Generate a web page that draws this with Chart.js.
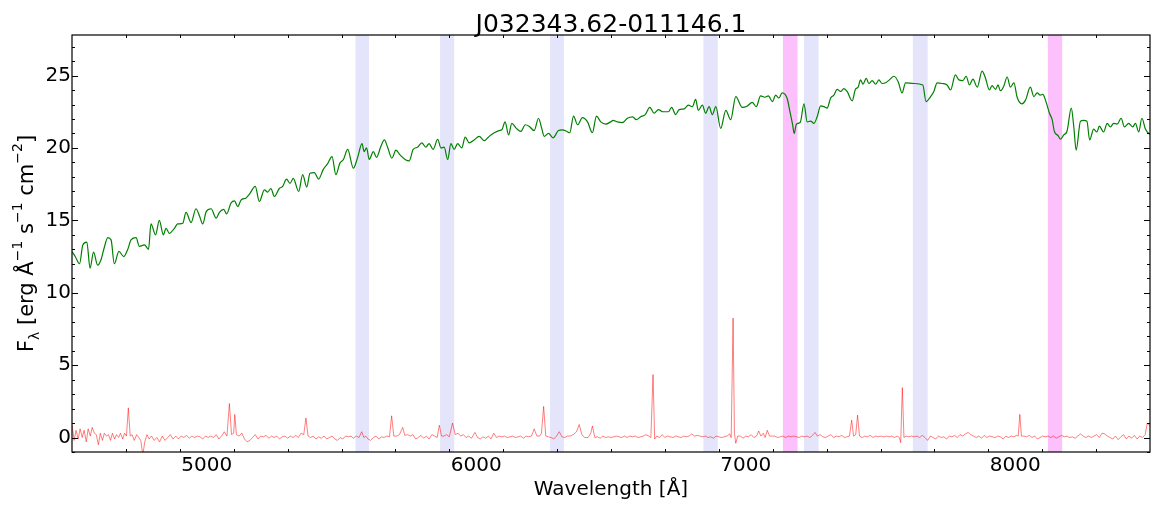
<!DOCTYPE html>
<html>
  <head>
    <meta charset="utf-8" />
    <script src="https://cdn.jsdelivr.net/npm/chart.js@4.4.0/dist/chart.umd.min.js"></script>
    <style>
      body { margin: 0; background: #fff; }
    </style>
  </head>
  <body>
    <canvas id="chart-spectrum" width="1153" height="507"></canvas>
    <script>
      // INPUT DATA

      const objName = "J032343.62-011146.1";

      // model spectrum (green), wavelength in Angstrom
      const greenWave = [
        4500, 4512, 4528, 4540, 4555, 4567, 4580, 4595, 4608, 4618,
        4633, 4645, 4657, 4674, 4692, 4707, 4719, 4738, 4750, 4769,
        4784, 4793, 4810, 4824, 4839, 4849, 4861, 4880, 4892, 4911,
        4923, 4942, 4960, 4973, 4985, 4998, 5016, 5035, 5047, 5063,
        5074, 5090, 5103, 5115, 5127, 5146, 5158, 5180, 5195, 5214,
        5226, 5238, 5251, 5269, 5282, 5296, 5309, 5321, 5341, 5356,
        5371, 5383, 5399, 5415, 5432, 5448, 5465, 5479, 5494, 5507,
        5523, 5544, 5560, 5576, 5584, 5593, 5603, 5618, 5630, 5646,
        5659, 5671, 5687, 5702, 5718, 5736, 5751, 5766, 5782, 5798,
        5813, 5825, 5840, 5857, 5869, 5881, 5894, 5906, 5918, 5931,
        5946, 5959, 5974, 5992, 6011, 6030, 6048, 6067, 6085, 6095,
        6107, 6120, 6132, 6149, 6166, 6182, 6196, 6215, 6231, 6243,
        6252, 6268, 6285, 6305, 6320, 6335, 6347, 6361, 6376, 6394,
        6413, 6431, 6446, 6462, 6481, 6499, 6508, 6524, 6542, 6561,
        6580, 6594, 6610, 6627, 6644, 6660, 6676, 6693, 6713, 6725,
        6740, 6753, 6771, 6787, 6802, 6814, 6824, 6839, 6851, 6864,
        6876, 6889, 6907, 6926, 6944, 6963, 6987, 7006, 7024, 7039,
        7055, 7071, 7084, 7099, 7111, 7123, 7135, 7154, 7163, 7173,
        7180, 7187, 7195, 7203, 7216, 7228, 7241, 7253, 7265, 7278,
        7290, 7302, 7315, 7327, 7339, 7352, 7364, 7376, 7395, 7407,
        7417, 7426, 7435, 7447, 7457, 7469, 7482, 7494, 7506, 7519,
        7533, 7550, 7566, 7580, 7593, 7624, 7657, 7669, 7686, 7698,
        7710, 7729, 7747, 7760, 7778, 7791, 7805, 7818, 7830, 7843,
        7859, 7877, 7889, 7904, 7914, 7927, 7936, 7945, 7957, 7970,
        7982, 7995, 8007, 8025, 8038, 8056, 8069, 8081, 8093, 8102,
        8114, 8127, 8137, 8145, 8159, 8168, 8180, 8192, 8208, 8217,
        8226, 8242, 8254, 8266, 8276, 8291, 8303, 8312, 8328, 8341,
        8353, 8365, 8378, 8393, 8405, 8421, 8436, 8446, 8458, 8470,
        8483, 8495, 8500,
      ];
      const greenFlux = [
        12.85, 12.5, 12.0, 13.3, 13.5, 11.7, 12.8, 11.9, 12.3, 13.0,
        13.8, 13.65, 12.0, 12.85, 12.5, 13.0, 13.65, 13.8, 13.2, 13.3,
        13.0, 14.75, 14.0, 15.0, 14.0, 14.45, 14.1, 14.45, 14.75, 14.8,
        15.55, 14.85, 15.8, 15.3, 14.75, 15.6, 15.8, 15.15, 15.55, 15.75,
        15.45, 16.2, 16.35, 15.95, 16.4, 16.55, 16.8, 17.35, 16.3, 17.1,
        16.95, 17.2, 16.65, 17.2, 17.35, 17.85, 17.55, 17.9, 17.0, 18.15,
        17.3, 18.25, 18.3, 17.85, 18.5, 18.9, 19.4, 18.15, 18.95, 19.2,
        19.9, 18.6, 19.35, 20.3, 19.75, 20.0, 19.2, 19.75, 19.35, 20.1,
        20.55, 20.05, 19.3, 19.85, 19.5, 19.2, 19.1, 19.9, 20.05, 20.35,
        20.05, 20.3, 19.9, 20.6, 20.0, 20.05, 19.2, 20.3, 19.9, 20.3,
        20.0, 20.75, 20.35, 20.55, 20.8, 20.5, 20.8, 21.05, 21.2, 21.25,
        21.8, 20.9, 21.7, 21.35, 21.15, 21.6, 21.5, 21.2, 22.05, 21.35,
        20.8, 21.0, 20.7, 21.2, 21.25, 21.15, 21.05, 22.2, 21.6, 22.1,
        21.8, 21.05, 22.2, 21.8, 21.65, 21.8, 21.9, 21.8, 21.75, 22.05,
        22.15, 21.95, 22.15, 22.3, 22.8, 22.4, 22.65, 22.5, 22.5, 22.8,
        22.3, 22.65, 22.7, 22.95, 22.85, 23.35, 22.6, 22.95, 22.4, 22.85,
        22.3, 22.85, 21.35, 22.6, 21.95, 23.55, 22.8, 22.9, 23.15, 22.85,
        23.6, 23.5, 23.6, 23.2, 23.65, 23.45, 23.8, 23.4, 22.6, 21.7,
        21.0, 21.6, 21.7, 21.8, 23.05, 21.8, 21.85, 21.7, 22.15, 22.9,
        22.85, 22.75, 23.45, 23.65, 24.05, 23.9, 24.1, 23.9, 23.25, 24.05,
        24.2, 24.7, 24.4, 24.8, 24.45, 24.65, 24.4, 24.7, 24.45, 24.5,
        24.7, 24.95, 24.55, 23.8, 24.5, 24.45, 24.35, 23.2, 23.55, 23.9,
        24.5, 24.45, 24.35, 24.0, 25.05, 24.7, 24.65, 24.95, 24.35, 24.75,
        24.2, 25.3, 24.85, 24.0, 24.3, 24.05, 24.35, 23.95, 24.25, 24.9,
        24.2, 24.5, 23.5, 23.05, 23.3, 24.2, 23.55, 23.8, 23.65, 23.7,
        23.2, 22.4, 21.95, 21.15, 20.85, 20.6, 20.9, 21.15, 22.75, 21.5,
        19.85, 21.85, 21.9, 21.85, 20.55, 21.3, 21.1, 21.5, 21.1, 21.7,
        21.45, 21.7, 21.65, 22.05, 21.45, 21.7, 21.45, 21.7, 21.1, 22.05,
        21.3, 21.0, 20.95,
      ];

      // residual / emission spectrum (red)
      const redWave = [
        4500, 4508, 4515, 4523, 4530, 4538, 4545, 4553, 4560, 4568,
        4575, 4583, 4590, 4598, 4605, 4613, 4620, 4628, 4635, 4643,
        4650, 4658, 4665, 4673, 4680, 4688, 4695, 4702, 4709, 4716,
        4723, 4731, 4740, 4748, 4755, 4763, 4770, 4778, 4786, 4795,
        4805, 4815, 4825, 4835, 4845, 4855, 4865, 4875, 4885, 4895,
        4905, 4915, 4925, 4935, 4945, 4955, 4965, 4975, 4985, 4995,
        5005, 5015, 5025, 5035, 5045, 5055, 5065, 5075, 5084, 5092,
        5100, 5104, 5110, 5120, 5130, 5140, 5150, 5160, 5170, 5180,
        5190, 5200, 5210, 5220, 5230, 5240, 5250, 5260, 5270, 5280,
        5290, 5300, 5310, 5320, 5330, 5340, 5350, 5360, 5368, 5376,
        5385, 5395, 5405, 5415, 5425, 5435, 5445, 5455, 5465, 5475,
        5485, 5495, 5505, 5515, 5525, 5535, 5545, 5555, 5565, 5575,
        5583, 5590, 5598, 5608, 5618, 5628, 5638, 5648, 5658, 5668,
        5678, 5686, 5694, 5705, 5715, 5727, 5735, 5745, 5755, 5765,
        5775, 5785, 5795, 5805, 5815, 5825, 5835, 5845, 5855, 5863,
        5871, 5880, 5890, 5900, 5912, 5922, 5932, 5942, 5952, 5962,
        5972, 5982, 5995, 6005, 6015, 6025, 6035, 6045, 6055, 6065,
        6075, 6085, 6095, 6105, 6115, 6125, 6135, 6145, 6155, 6165,
        6175, 6185, 6195, 6205, 6215, 6225, 6235, 6242, 6250, 6258,
        6268, 6278, 6288, 6298, 6308, 6318, 6328, 6338, 6348, 6360,
        6372, 6382, 6392, 6402, 6415, 6425, 6431, 6440, 6450, 6460,
        6470, 6480, 6490, 6500, 6510, 6520, 6530, 6540, 6550, 6560,
        6570, 6580, 6590, 6600, 6610, 6620, 6630, 6640, 6648, 6656,
        6662, 6670, 6680, 6690, 6700, 6710, 6720, 6730, 6740, 6750,
        6760, 6770, 6780, 6790, 6800, 6810, 6820, 6830, 6840, 6850,
        6860, 6870, 6880, 6890, 6900, 6910, 6920, 6930, 6940, 6946,
        6953, 6958, 6963, 6970, 6980, 6990, 7000, 7010, 7020, 7030,
        7040, 7048, 7056, 7065, 7072, 7080, 7088, 7098, 7108, 7118,
        7128, 7138, 7148, 7158, 7168, 7178, 7188, 7198, 7208, 7218,
        7228, 7238, 7248, 7257, 7266, 7276, 7286, 7296, 7306, 7316,
        7326, 7336, 7346, 7356, 7366, 7376, 7385, 7393, 7400, 7408,
        7415, 7422, 7432, 7442, 7452, 7462, 7472, 7482, 7492, 7502,
        7512, 7522, 7532, 7542, 7552, 7562, 7570, 7575, 7581, 7587,
        7595, 7605, 7615, 7625, 7635, 7645, 7655, 7665, 7675, 7685,
        7695, 7705, 7715, 7725, 7735, 7745, 7755, 7765, 7775, 7785,
        7795, 7805, 7815, 7825, 7835, 7845, 7855, 7865, 7875, 7885,
        7895, 7905, 7915, 7925, 7935, 7945, 7955, 7965, 7975, 7985,
        7995, 8005, 8011, 8017, 8023, 8032, 8042, 8052, 8062, 8072,
        8082, 8092, 8102, 8112, 8122, 8132, 8142, 8152, 8162, 8172,
        8182, 8192, 8202, 8212, 8222, 8232, 8242, 8252, 8262, 8272,
        8282, 8292, 8302, 8312, 8322, 8332, 8342, 8352, 8362, 8372,
        8382, 8392, 8402, 8412, 8422, 8432, 8442, 8452, 8462, 8472,
        8482, 8490, 8500,
      ];
      const redFlux = [
        0.9, -0.2, 0.5, -0.1, 0.6, 0.0, 0.5, -0.3, 0.6, 0.1,
        0.7, 0.3, 0.2, -0.5, 0.3, -0.2, 0.3, 0.1, 0.2, -0.2,
        0.3, -0.1, 0.2, 0.0, 0.3, -0.1, 0.3, 0.1, 2.05, 0.1,
        0.2, -0.2, 0.2, 0.0, -0.2, -1.2, -0.3, 0.2, -0.1, 0.1,
        -0.2, 0.0, -0.3, 0.1, -0.2, 0.0, 0.2, -0.1, 0.1, -0.1,
        0.1, 0.0, 0.15, -0.05, 0.1, 0.0, 0.1, 0.05, -0.1, 0.1,
        0.0, 0.1, 0.0, 0.2, -0.1, 0.1, 0.4, 0.1, 2.35, 0.2,
        0.3, 1.6, 0.2, 0.1, 0.3, -0.1, -0.3, -0.2, 0.0, 0.2,
        -0.1, 0.1, 0.05, 0.15, -0.05, 0.1, 0.0, 0.1, -0.1, 0.05,
        0.1, -0.05, 0.1, 0.0, 0.15, 0.0, 0.3, 0.2, 1.35, 0.1,
        0.0, 0.1, -0.1, 0.05, -0.05, 0.1, -0.1, 0.0, 0.1, -0.1,
        -0.2, 0.0, -0.1, 0.1, 0.05, 0.1, -0.05, 0.1, 0.0, 0.4,
        0.0, 0.1, -0.1, -0.2, 0.0, 0.1, -0.1, 0.05, 0.0, 0.1,
        0.05, 1.5, 0.1, 0.1, 0.2, 0.7, 0.15, 0.2, 0.1, 0.2,
        -0.1, 0.0, 0.15, -0.05, 0.1, -0.1, 0.2, 0.1, 0.0, 0.85,
        0.1, 0.1, 0.2, 0.05, 1.0, 0.2, 0.3, 0.1, 0.2, 0.0,
        0.1, -0.05, 0.35, 0.0, -0.1, 0.05, -0.05, 0.1, -0.1, 0.3,
        0.0, 0.1, 0.05, 0.1, 0.0, 0.05, 0.1, 0.0, 0.05, 0.1,
        -0.05, 0.1, 0.05, 0.1, 0.6, 0.1, 0.1, 0.3, 2.15, 0.1,
        0.05, 0.0, -0.1, 0.1, 0.4, 0.05, 0.0, 0.1, 0.1, 0.2,
        0.4, 0.9, 0.2, 0.0, 0.0, 0.3, 0.8, 0.0, 0.05, -0.05,
        0.1, 0.0, 0.05, 0.0, 0.05, 0.1, 0.05, 0.0, 0.1, 0.0,
        0.1, 0.05, 0.1, 0.0, 0.05, 0.1, 0.2, 0.1, 0.0, 4.35,
        -0.1, 0.1, 0.0, 0.2, 0.0, 0.1, 0.05, 0.0, 0.1, 0.05,
        0.0, 0.1, 0.05, 0.1, 0.25, 0.1, 0.15, 0.1, 0.05, 0.1,
        0.0, 0.05, -0.05, 0.1, 0.05, 0.0, 0.05, 0.1, 0.25, 0.0,
        8.25, 0.3, -0.4, 0.1, 0.1, -0.05, 0.1, 0.05, 0.2, 0.0,
        0.1, 0.45, 0.1, 0.3, 0.0, 0.5, 0.1, 0.1, 0.1, 0.0,
        0.05, 0.1, 0.0, 0.1, 0.05, 0.1, 0.05, 0.0, 0.1, 0.05,
        0.1, 0.0, 0.15, 0.35, 0.1, 0.2, 0.05, 0.0, 0.1, 0.2,
        0.0, 0.1, 0.05, 0.15, 0.0, 0.05, 0.1, 1.2, 0.1, 0.2,
        1.55, 0.1, 0.0, 0.1, 0.05, 0.15, 0.0, 0.1, 0.05, 0.1,
        0.05, 0.1, 0.05, 0.1, 0.0, 0.1, 0.0, -0.35, 3.45, 0.0,
        0.1, 0.05, 0.1, 0.05, 0.1, 0.0, 0.15, 0.0, -0.2, 0.1,
        0.0, -0.1, 0.1, 0.0, 0.05, -0.1, 0.1, 0.05, 0.15, 0.0,
        0.2, 0.1, 0.25, 0.35, 0.2, 0.1, 0.0, 0.1, -0.05, 0.15,
        0.0, 0.1, 0.05, 0.0, 0.1, 0.05, -0.1, 0.1, 0.0, 0.1,
        0.05, 0.15, 0.1, 1.6, 0.1, 0.1, 0.05, 0.15, 0.0, 0.1,
        -0.1, 0.0, 0.1, 0.05, 0.1, 0.0, 0.1, -0.05, 0.05, 0.15,
        0.05, 0.1, 0.0, 0.05, -0.05, 0.1, 0.25, 0.1, 0.0, 0.1,
        0.0, 0.1, 0.2, 0.0, 0.3, 0.25, 0.1, 0.0, -0.1, 0.1,
        -0.15, 0.05, 0.2, -0.1, 0.1, -0.05, 0.15, -0.1, 0.1, 0.0,
        0.2, 1.0, 0.8,
      ];

      // masked regions [start, end] in Angstrom
      const skyBands = [
        [5552, 5602], [5866, 5918], [6274, 6325],
        [6843, 6896], [7216, 7270], [7620, 7675],
      ];
      const telluricBands = [[7138, 7192], [8121, 8174]];

      const xTicks = [5000, 6000, 7000, 8000];
      const yTicks = [0, 5, 10, 15, 20, 25];
      const xMinorStep = 200;
      const yMinorStep = 1;

      // PLOTTING

      Chart.defaults.font.family = "'DejaVu Sans', sans-serif";
      Chart.defaults.color = "#000";

      const tickFont = { size: 20 };

      const bandsPlugin = {
        id: "bands",
        beforeDatasetsDraw(chart) {
          const { ctx, chartArea: a, scales } = chart;
          const x = scales.x;
          ctx.save();
          ctx.beginPath();
          ctx.rect(a.left, a.top, a.right - a.left, a.bottom - a.top);
          ctx.clip();
          const fill = (bands, color) => {
            ctx.fillStyle = color;
            bands.forEach(function (b) {
              const x1 = x.getPixelForValue(b[0]);
              const x2 = x.getPixelForValue(b[1]);
              ctx.fillRect(x1, a.top, x2 - x1, a.bottom - a.top);
            });
          };
          fill(skyBands, "rgb(228,228,250)");
          fill(telluricBands, "rgb(252,192,252)");
          ctx.restore();
        },
      };

      // frame, inward ticks on all sides, title and the y label with sub/superscripts
      const framePlugin = {
        id: "frame",
        afterDraw(chart) {
          const { ctx, chartArea: a, scales } = chart;
          const x = scales.x, y = scales.y;
          ctx.save();
          ctx.strokeStyle = "#000";
          ctx.lineWidth = 1;
          ctx.beginPath();
          for (let v = x.min + xMinorStep; v < x.max; v += xMinorStep) {
            const px = Math.round(x.getPixelForValue(v)) + 0.5;
            const len = xTicks.includes(v) ? 6 : 3;
            ctx.moveTo(px, a.bottom); ctx.lineTo(px, a.bottom - len);
            ctx.moveTo(px, a.top); ctx.lineTo(px, a.top + len);
          }
          for (let v = Math.ceil(y.min); v < y.max; v += yMinorStep) {
            const py = Math.round(y.getPixelForValue(v)) + 0.5;
            const len = yTicks.includes(v) ? 6 : 3;
            ctx.moveTo(a.left, py); ctx.lineTo(a.left + len, py);
            ctx.moveTo(a.right, py); ctx.lineTo(a.right - len, py);
          }
          ctx.stroke();
          ctx.lineWidth = 1.2;
          ctx.strokeRect(a.left, a.top, a.right - a.left, a.bottom - a.top);

          // title
          ctx.fillStyle = "#000";
          ctx.font = "25px 'DejaVu Sans'";
          ctx.textAlign = "center";
          ctx.textBaseline = "alphabetic";
          ctx.fillText(objName, (a.left + a.right) / 2, 32);

          // y label
          const parts = [
            ["F", 0], ["\u03bb", -1], [" [erg \u00c5", 0], ["\u22121", 1],
            [" s", 0], ["\u22121", 1], [" cm", 0], ["\u22122", 1], ["]", 0],
          ];
          const fontFor = (k) => (k === 0 ? "21px 'DejaVu Sans'" : "14px 'DejaVu Sans'");
          let total = 0;
          parts.forEach(function (p) {
            ctx.font = fontFor(p[1]);
            total += ctx.measureText(p[0]).width;
          });
          ctx.translate(26, (a.top + a.bottom) / 2);
          ctx.rotate(-Math.PI / 2);
          ctx.textAlign = "left";
          let cx = -total / 2;
          parts.forEach(function (p) {
            ctx.font = fontFor(p[1]);
            const dy = p[1] === 0 ? 7 : p[1] < 0 ? 13 : -4;
            ctx.fillText(p[0], cx, dy);
            cx += ctx.measureText(p[0]).width;
          });
          ctx.restore();
        },
      };

      const toPoints = (w, f) => w.map(function (v, i) { return { x: v, y: f[i] }; });

      const ctx = document.getElementById("chart-spectrum").getContext("2d");
      new Chart(ctx, {
        type: "line",
        data: {
          datasets: [
            {
              label: "model",
              data: toPoints(greenWave, greenFlux),
              borderColor: "#008000",
              borderWidth: 1.2,
              pointRadius: 0,
              fill: false,
              cubicInterpolationMode: "monotone",
            },
            {
              label: "residual",
              data: toPoints(redWave, redFlux),
              borderColor: "rgba(255,0,0,0.5)",
              borderWidth: 1,
              pointRadius: 0,
              fill: false,
              tension: 0,
            },
          ],
        },
        options: {
          responsive: false,
          animation: false,
          events: [],
          layout: { padding: { top: 35, right: 3, left: 0, bottom: 0 } },
          plugins: {
            legend: { display: false },
            tooltip: { enabled: false },
            title: { display: false },
          },
          scales: {
            x: {
              type: "linear",
              min: 4500,
              max: 8500,
              grid: { display: false, drawTicks: false },
              border: { display: false },
              afterBuildTicks: function (s) {
                s.ticks = xTicks.map(function (v) { return { value: v }; });
              },
              afterFit: function (s) { s.height = 55; },
              ticks: {
                font: tickFont,
                color: "#000",
                padding: 2,
                maxRotation: 0,
                autoSkip: false,
                callback: function (v) { return String(v); },
              },
              title: {
                display: true,
                text: "Wavelength [\u00c5]",
                font: { size: 20 },
                color: "#000",
                padding: { top: 0, bottom: 5 },
              },
            },
            y: {
              type: "linear",
              min: -1,
              max: 27.8,
              grid: { display: false, drawTicks: false },
              border: { display: false },
              afterBuildTicks: function (s) {
                s.ticks = yTicks.map(function (v) { return { value: v }; });
              },
              afterFit: function (s) { s.width = 72; },
              ticks: {
                font: tickFont,
                color: "#000",
                padding: 1,
                autoSkip: false,
                callback: function (v) { return String(v); },
              },
            },
          },
        },
        plugins: [bandsPlugin, framePlugin],
      });
    </script>
  </body>
</html>
